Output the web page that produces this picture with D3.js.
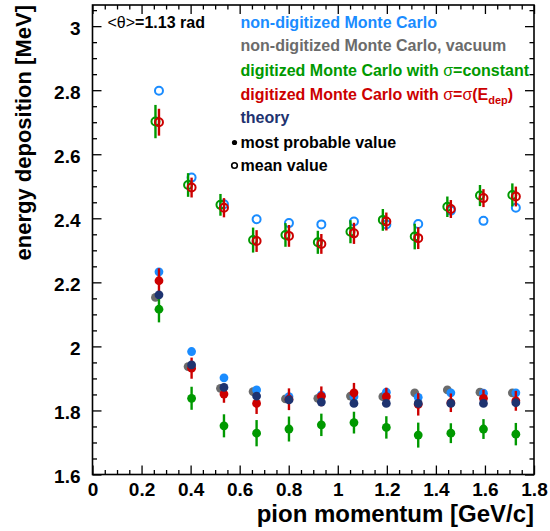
<!DOCTYPE html>
<html>
<head>
<meta charset="utf-8">
<script src="https://cdn.jsdelivr.net/npm/d3@7"></script>
<style>
  html, body { margin: 0; padding: 0; background: #fff; }
  svg { display: block; font-family: "Liberation Sans", Arial, Helvetica, sans-serif; font-weight: bold; }
</style>
</head>
<body>
<svg id="chart" width="550" height="531"></svg>
<script>
// Pion momentum bins [GeV/c]
const momentum = [0.271, 0.404, 0.536, 0.669, 0.801, 0.933, 1.066, 1.198, 1.328, 1.461, 1.594, 1.726];

// Mean energy deposition [MeV]
const meanMC       = [2.798, 2.527, 2.444, 2.397, 2.385, 2.381, 2.390, 2.381, 2.382, 2.424, 2.392, 2.433];
const meanDigConst = [2.702, 2.504, 2.442, 2.332, 2.348, 2.325, 2.358, 2.395, 2.343, 2.436, 2.471, 2.473];
const meanDigConstErr = [0.052, 0.037, 0.034, 0.039, 0.037, 0.036, 0.036, 0.034, 0.040, 0.032, 0.033, 0.036];
const meanDigEdep  = [2.700, 2.496, 2.433, 2.329, 2.345, 2.320, 2.353, 2.390, 2.338, 2.429, 2.463, 2.468];
const meanDigEdepErr = [0.042, 0.031, 0.030, 0.034, 0.034, 0.031, 0.033, 0.028, 0.034, 0.028, 0.028, 0.031];

// Most probable energy deposition [MeV]
const mpvMC        = [2.233, 1.984, 1.902, 1.864, 1.843, 1.848, 1.843, 1.857, 1.841, 1.855, 1.854, 1.855];
const mpvVacuum    = [2.153, 1.937, 1.869, 1.859, 1.836, 1.838, 1.845, 1.843, 1.855, 1.864, 1.857, 1.855];
const mpvDigConst  = [2.116, 1.838, 1.752, 1.729, 1.742, 1.755, 1.762, 1.747, 1.723, 1.729, 1.742, 1.726];
const mpvDigConstErr = [0.041, 0.036, 0.036, 0.041, 0.039, 0.035, 0.034, 0.035, 0.039, 0.031, 0.031, 0.035];
const mpvDigEdep   = [2.205, 1.932, 1.851, 1.822, 1.835, 1.844, 1.855, 1.843, 1.819, 1.824, 1.838, 1.830];
const mpvDigEdepErr = [0.039, 0.033, 0.027, 0.033, 0.034, 0.031, 0.031, 0.028, 0.035, 0.029, 0.027, 0.031];
const mpvTheory    = [2.161, 1.942, 1.872, 1.845, 1.833, 1.826, 1.822, 1.822, 1.822, 1.822, 1.822, 1.824];

// Axis ticks
const xMajorTicks = [0, 0.2, 0.4, 0.6, 0.8, 1, 1.2, 1.4, 1.6, 1.8];
const yMajorTicks = [1.6, 1.8, 2, 2.2, 2.4, 2.6, 2.8, 3];

const COL = {
  mc: "#1a8cff",
  vacuum: "#6b6b6b",
  digConst: "#009900",
  digEdep: "#cc0000",
  theory: "#1e3370"
};

const svg = d3.select("#chart");
const frame = { left: 92.5, right: 534, top: 5, bottom: 474.5 };

const x = d3.scaleLinear().domain([0, 1.8]).range([frame.left, frame.right]);
const y = d3.scaleLinear().domain([1.6, 3.066]).range([frame.bottom, frame.top]);

const xMinor = d3.range(0, 1.8001, 0.05).map(v => +v.toFixed(2)).filter(v => !xMajorTicks.some(m => Math.abs(m - v) < 1e-6));
const yMinor = d3.range(1.6, 3.0661, 0.05).map(v => +v.toFixed(2)).filter(v => !yMajorTicks.some(m => Math.abs(m - v) < 1e-6));
const fmt = d => String(+d.toFixed(1));

const MAJOR = 9, MINOR = 4.5;

function styleAxis(g) {
  g.select(".domain").remove();
  g.selectAll(".tick line").attr("stroke", "#000").attr("stroke-width", 1.3);
  g.selectAll(".tick text").attr("fill", "#000").attr("font-size", 19).attr("font-weight", "bold")
    .attr("font-family", "'Liberation Sans', Arial, sans-serif");
}

// bottom axis with labels
svg.append("g").attr("transform", `translate(0,${frame.bottom})`)
  .call(d3.axisBottom(x).tickValues(xMajorTicks).tickSize(-MAJOR).tickPadding(8).tickFormat(fmt))
  .call(styleAxis);
svg.append("g").attr("transform", `translate(0,${frame.bottom})`)
  .call(d3.axisBottom(x).tickValues(xMinor).tickSize(-MINOR).tickFormat(""))
  .call(styleAxis);
// top axis ticks
svg.append("g").attr("transform", `translate(0,${frame.top})`)
  .call(d3.axisTop(x).tickValues(xMajorTicks).tickSize(-MAJOR).tickFormat(""))
  .call(styleAxis);
svg.append("g").attr("transform", `translate(0,${frame.top})`)
  .call(d3.axisTop(x).tickValues(xMinor).tickSize(-MINOR).tickFormat(""))
  .call(styleAxis);
// left axis with labels
const yAx = svg.append("g").attr("transform", `translate(${frame.left},0)`)
  .call(d3.axisLeft(y).tickValues(yMajorTicks).tickSize(-MAJOR).tickPadding(12).tickFormat(fmt))
  .call(styleAxis);
yAx.selectAll(".tick text").attr("dy", "0.42em");
svg.append("g").attr("transform", `translate(${frame.left},0)`)
  .call(d3.axisLeft(y).tickValues(yMinor).tickSize(-MINOR).tickFormat(""))
  .call(styleAxis);
// right axis ticks
svg.append("g").attr("transform", `translate(${frame.right},0)`)
  .call(d3.axisRight(y).tickValues(yMajorTicks).tickSize(-MAJOR).tickFormat(""))
  .call(styleAxis);
svg.append("g").attr("transform", `translate(${frame.right},0)`)
  .call(d3.axisRight(y).tickValues(yMinor).tickSize(-MINOR).tickFormat(""))
  .call(styleAxis);

// frame
svg.append("rect")
  .attr("x", frame.left).attr("y", frame.top)
  .attr("width", frame.right - frame.left).attr("height", frame.bottom - frame.top)
  .attr("fill", "none").attr("stroke", "#000").attr("stroke-width", 1.6);

// axis titles
svg.append("text")
  .attr("transform", `translate(31,${frame.top}) rotate(-90)`)
  .attr("text-anchor", "end").attr("font-size", 22).attr("fill", "#000")
  .text("energy deposition [MeV]");
svg.append("text")
  .attr("x", frame.right).attr("y", 522)
  .attr("text-anchor", "end").attr("font-size", 24).attr("fill", "#000")
  .text("pion momentum [GeV/c]");

// data layers
const plot = svg.append("g");

function errorBars(vals, errs, color, dx) {
  plot.append("g").selectAll("line").data(vals).join("line")
    .attr("x1", (d, i) => x(momentum[i]) + dx)
    .attr("x2", (d, i) => x(momentum[i]) + dx)
    .attr("y1", (d, i) => y(d - errs[i]))
    .attr("y2", (d, i) => y(d + errs[i]))
    .attr("stroke", color).attr("stroke-width", 2.4);
}
function filled(vals, color, dx) {
  plot.append("g").selectAll("circle").data(vals).join("circle")
    .attr("cx", (d, i) => x(momentum[i]) + dx)
    .attr("cy", d => y(d))
    .attr("r", 4.4).attr("fill", color);
}
function hollow(vals, color, dx) {
  plot.append("g").selectAll("circle").data(vals).join("circle")
    .attr("cx", (d, i) => x(momentum[i]) + dx)
    .attr("cy", d => y(d))
    .attr("r", 4).attr("fill", "none").attr("stroke", color).attr("stroke-width", 2);
}

const SHIFT = -3.5;
filled(mpvVacuum, COL.vacuum, SHIFT);
filled(mpvMC, COL.mc, 0);
hollow(meanMC, COL.mc, 0);
errorBars(mpvDigConst, mpvDigConstErr, COL.digConst, 0);
filled(mpvDigConst, COL.digConst, 0);
errorBars(meanDigConst, meanDigConstErr, COL.digConst, SHIFT);
hollow(meanDigConst, COL.digConst, SHIFT);
errorBars(mpvDigEdep, mpvDigEdepErr, COL.digEdep, 0);
filled(mpvDigEdep, COL.digEdep, 0);
errorBars(meanDigEdep, meanDigEdepErr, COL.digEdep, 0);
hollow(meanDigEdep, COL.digEdep, 0);
filled(mpvTheory, COL.theory, 0);

// annotation
const ann = svg.append("text").attr("x", 107.5).attr("y", 27.5).attr("font-size", 16).attr("fill", "#000");
ann.append("tspan").attr("font-weight", "normal").text("<θ>");
ann.append("tspan").text("=1.13 rad");

// legend
const legX = 240.5;
const leg = svg.append("g").attr("font-size", 16);
leg.append("text").attr("x", legX).attr("y", 27.5).attr("fill", COL.mc).text("non-digitized Monte Carlo");
leg.append("text").attr("x", legX).attr("y", 51).attr("fill", COL.vacuum).text("non-digitized Monte Carlo, vacuum");
const l3 = leg.append("text").attr("x", legX).attr("y", 75.5).attr("fill", COL.digConst);
l3.append("tspan").text("digitized Monte Carlo with ");
l3.append("tspan").attr("font-weight", "normal").text("σ");
l3.append("tspan").text("=constant");
const l4 = leg.append("text").attr("x", legX).attr("y", 100).attr("fill", COL.digEdep);
l4.append("tspan").text("digitized Monte Carlo with ");
l4.append("tspan").attr("font-weight", "normal").text("σ");
l4.append("tspan").text("=");
l4.append("tspan").attr("font-weight", "normal").text("σ");
l4.append("tspan").text("(E");
l4.append("tspan").attr("font-size", 11).attr("dy", 4).text("dep");
l4.append("tspan").attr("dy", -4).text(")");
leg.append("text").attr("x", legX).attr("y", 122.5).attr("fill", COL.theory).text("theory");
leg.append("text").attr("x", legX).attr("y", 147.5).attr("fill", "#000").text("most probable value");
leg.append("text").attr("x", legX).attr("y", 170.5).attr("fill", "#000").text("mean value");
leg.append("circle").attr("cx", 234.5).attr("cy", 142.5).attr("r", 2.6).attr("fill", "#000");
leg.append("circle").attr("cx", 234.5).attr("cy", 165.5).attr("r", 2.8)
  .attr("fill", "none").attr("stroke", "#000").attr("stroke-width", 1.6);
</script>
</body>
</html>
